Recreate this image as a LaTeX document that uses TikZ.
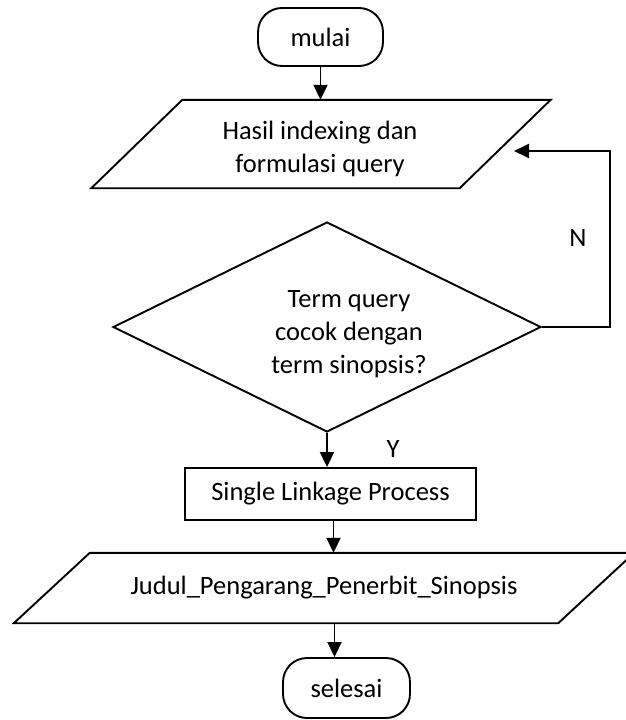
\documentclass[tikz,border=0pt]{standalone}
\usepackage{fontspec}
\setmainfont{Carlito}
\usetikzlibrary{shapes.geometric,arrows.meta,calc}

\begin{document}
\begin{tikzpicture}[x=1pt,y=-1pt,
  every node/.style={font=\fontsize{26.5}{33}\selectfont, inner sep=0pt, align=center},
  flow/.style={draw, line width=1.9pt},
  term/.style={flow, rounded corners=24pt, minimum width=125pt, minimum height=58pt},
  iotext/.style={minimum height=#1},
  procbox/.style={flow, minimum width=291pt, minimum height=52pt},
  decision/.style={flow, diamond, minimum width=428pt, minimum height=210pt},
  link/.style={line width=1.9pt, -{Triangle[length=15pt,width=14pt]}}]

\fill[white] (0,0) rectangle (625,720);
\useasboundingbox (0,0) rectangle (625,720);

% start / end terminators
\node[term] (start) at (320.5,37) {mulai};
\node[term, minimum width=127pt, minimum height=60pt] (stop) at (346.5,688) {selesai};

% input: indexing results and query
\node[iotext=88pt, minimum width=368pt] (in1) at (321,144) {};
\node (in1text) at (320,149) {Hasil indexing dan\\formulasi query};
\draw[flow] ($(in1.north west)+(45.5,0)$) -- ($(in1.north east)+(45.5,0)$)
  -- ($(in1.south east)+(-45.5,0)$) -- ($(in1.south west)+(-45.5,0)$) -- cycle;

% decision
\node[decision] (dec) at (327,327) {};
\node (dectext) at (349,334) {Term query\\cocok dengan\\term sinopsis?};

% process
\node[procbox] (proc) at (330.5,494) {Single Linkage Process};

% output
\node[iotext=70pt, minimum width=544pt] (in2) at (324,588) {Judul\_Pengarang\_Penerbit\_Sinopsis};
\draw[flow] ($(in2.north west)+(38,0)$) -- ($(in2.north east)+(38,0)$)
  -- ($(in2.south east)+(-38,0)$) -- ($(in2.south west)+(-38,0)$) -- cycle;

% branch labels
\node (nlab) at (578,238) {N};
\node (ylab) at (393,449) {Y};

% connectors
\draw[link] (start.south) -- (start.south |- in1.north);
\draw[link] (dec.south) -- (dec.south |- proc.north);
\draw[link] ([xshift=3pt]proc.south) -- ([xshift=3pt]proc.south |- in2.north);
\draw[link] ([xshift=-12pt]stop.north |- in2.south) -- ([xshift=-12pt]stop.north);

\coordinate (loopin) at (514,151);
\draw[link] (dec.east) -- ++(68,0) |- (loopin);
\end{tikzpicture}
\end{document}
